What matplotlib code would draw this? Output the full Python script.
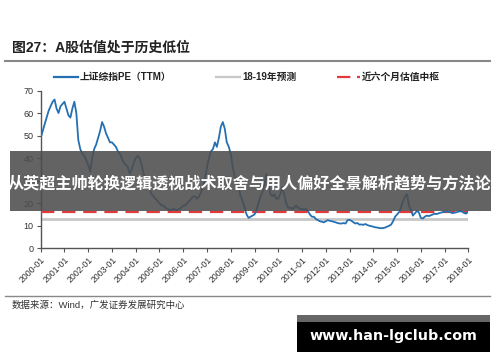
import matplotlib
matplotlib.use("Agg")
import matplotlib.pyplot as plt
from matplotlib.patches import Rectangle
import numpy as np

plt.rcParams['font.family'] = ['Liberation Sans', 'Noto Sans CJK SC', 'DejaVu Sans']

# ---------------- data ----------------
years = list(range(2000, 2019))
pe_2000 = [49, 52, 55, 58, 61, 63, 65, 66, 62, 60, 63, 64]
pe_2001 = [65, 62, 59, 58, 62, 65, 60, 48, 44, 42, 41, 39]
pe_2002 = [37, 34, 40, 44, 46, 49, 52, 56, 54, 51, 49, 47]
pe_2003 = [47, 46, 45, 43, 42, 40, 38, 37, 36, 33, 35, 38]
pe_2004 = [40, 41, 40, 37, 33, 30, 28, 26, 24, 23, 22, 21]
pe_2005 = [20, 19, 19, 18, 17.5, 17, 17, 17.5, 17, 17, 17.5, 18]
pe_2006 = [19, 19, 20, 21, 22, 23, 23, 22, 23, 25, 27, 31]
pe_2007 = [36, 40, 43, 44, 47, 45, 49, 54, 56, 53, 47, 45]
pe_2008 = [42, 36, 32, 30, 27, 23, 21, 18, 15, 13.5, 14, 14.5]
pe_2009 = [15, 17, 20, 23, 25, 28, 33, 29, 24, 23, 24, 22]
pe_2010 = [22, 24, 27, 24, 20, 18, 18, 17.5, 18, 19, 18, 17.5]
pe_2011 = [17.5, 17, 17.5, 16.5, 15, 14, 14, 13, 12.5, 12, 11.8, 11.5]
pe_2012 = [12, 12.5, 12.2, 12, 11.8, 11.5, 11.2, 11, 11, 11.2, 11, 12.5]
pe_2013 = [12.6, 12.2, 11.5, 11, 11.2, 10.5, 10.6, 10.4, 10.8, 10.3, 10, 9.8]
pe_2014 = [9.6, 9.3, 9.2, 9.0, 8.9, 9.0, 9.2, 9.6, 10, 10.5, 12, 14]
pe_2015 = [15, 16, 18, 21, 23, 24, 19, 17, 14.5, 15.5, 16.5, 16]
pe_2016 = [13.5, 13.2, 14, 14.5, 14.3, 14.6, 15, 15.3, 15.2, 15.5, 15.8, 16]
pe_2017 = [16.2, 16.4, 16.2, 16, 15.6, 15.8, 16, 16.3, 16.4, 16.2, 15.6, 15.4]
pe_2018 = [16.5]

forecast_pe = 13.0     # 18-19年预测
center_pe = 16.3       # 近六个月估值中枢

tick_labels = [f"{y}-01" for y in years]
y_ticks = [0, 10, 20, 30, 40, 50, 60, 70]

pe = (pe_2000 + pe_2001 + pe_2002 + pe_2003 + pe_2004 + pe_2005 + pe_2006 +
      pe_2007 + pe_2008 + pe_2009 + pe_2010 + pe_2011 + pe_2012 + pe_2013 +
      pe_2014 + pe_2015 + pe_2016 + pe_2017 + pe_2018)
x = np.arange(len(pe))

# ---------------- figure ----------------
fig = plt.figure(figsize=(5.0, 3.62), dpi=100)
W, H = 500, 362

def fx(px):
    return px / W

def fy(py):
    return 1 - py / H

ax = fig.add_axes([fx(40.7), fy(248.3), fx(468.3 - 40.7), (248.3 - 90.5) / H])

blue = '#2470b3'
grey = '#c8c8c8'
red = '#e23a3a'

ax.plot(x, [forecast_pe] * len(x), color=grey, lw=2.0, zorder=2)
ax.plot(x, [center_pe] * len(x), color=red, lw=1.6, dashes=(6, 3.5), zorder=3)
ax.plot(x, pe, color=blue, lw=1.3, zorder=4)

ax.set_xlim(0, len(x) - 1)
ax.set_ylim(0, 70)
ax.set_yticks(y_ticks)
ax.set_yticklabels([str(v) for v in y_ticks], fontsize=6.5, color='#333333')
ax.set_xticks(np.arange(0, len(x), 12))
ax.set_xticklabels(tick_labels, rotation=45, ha='right', rotation_mode='anchor',
                   fontsize=6.3, color='#333333')
for s in ['top', 'right']:
    ax.spines[s].set_visible(False)
for s in ['left', 'bottom']:
    ax.spines[s].set_color('#555555')
    ax.spines[s].set_linewidth(1.0)
ax.tick_params(axis='both', direction='out', length=3, width=0.8, color='#555555', pad=2)

# title & rules
fig.text(fx(12), fy(48), '图27：A股估值处于历史低位', fontsize=10, fontweight='bold',
         color='#222222', va='center', ha='left')
fig.add_artist(plt.Line2D([fx(5), fx(490)], [fy(61), fy(61)], color='#888888', lw=1.5))
fig.add_artist(plt.Line2D([fx(5), fx(490)], [fy(296), fy(296)], color='#888888', lw=1.0))
fig.text(fx(12), fy(305), '数据来源：Wind，广发证券发展研究中心', fontsize=6.8,
         color='#333333', va='center', ha='left')

# legend (manual)
ly = fy(77)
fig.add_artist(plt.Line2D([fx(54), fx(78)], [ly, ly], color=blue, lw=1.6))
fig.text(fx(80), ly, '上证综指PE（TTM）', fontsize=7, fontweight='bold', va='center', ha='left', color='#222222')
fig.add_artist(plt.Line2D([fx(216), fx(240)], [ly, ly], color=grey, lw=1.6))
fig.text(fx(242), ly, '18-19年预测', fontsize=7, fontweight='bold', va='center', ha='left', color='#222222')
fig.add_artist(plt.Line2D([fx(337), fx(360)], [ly, ly], color=red, lw=1.6, dashes=(6, 3)))
fig.text(fx(362), ly, '近六个月估值中枢', fontsize=7, fontweight='bold', va='center', ha='left', color='#222222')

# banner overlay
fig.add_artist(Rectangle((fx(10), fy(211)), fx(481), (211 - 151) / H, transform=fig.transFigure,
                         facecolor=(0.3, 0.3, 0.3), alpha=0.88, edgecolor='none', zorder=10))
fig.text(fx(250), fy(183), '从英超主帅轮换逻辑透视战术取舍与用人偏好全景解析趋势与方法论',
         fontsize=11.6, fontweight='bold', color='white', ha='center', va='center',
         family=['Noto Sans CJK SC'], zorder=11)

# watermark box
fig.add_artist(Rectangle((fx(297), fy(322)), fx(193), 7 / H, transform=fig.transFigure,
                         facecolor='#666666', edgecolor='none', zorder=10))
fig.add_artist(Rectangle((fx(297), fy(352)), fx(193), 30 / H, transform=fig.transFigure,
                         facecolor='black', edgecolor='none', zorder=10))
fig.text(fx(393), fy(336), 'www.han-lgclub.com', fontsize=10.3, fontweight='bold', color='white',
         ha='center', va='center', family=['DejaVu Sans'], zorder=11)

fig.savefig('out.png', dpi=100)
